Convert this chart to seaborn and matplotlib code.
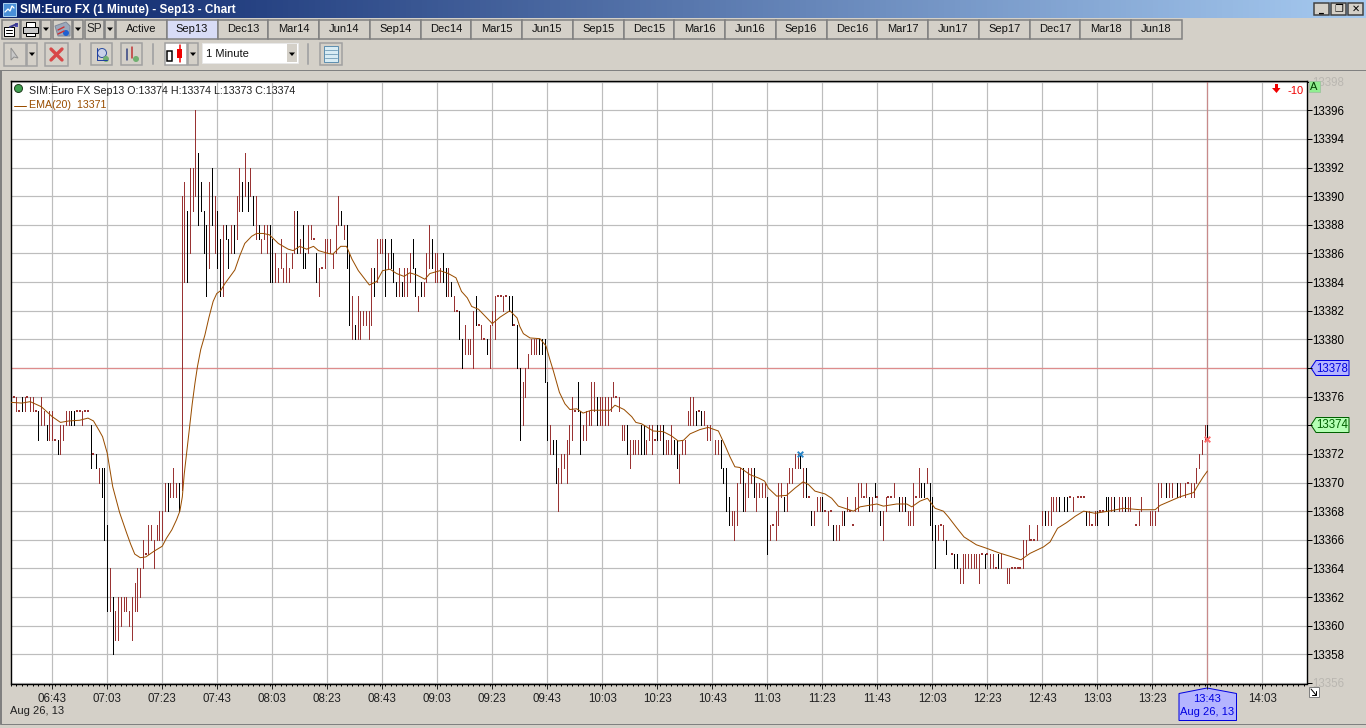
"""
Recreates the SIM:Euro FX 1 minute chart window.
Prices are read off the screenshot, times are minutes since midnight.
"""

import matplotlib
matplotlib.use('Agg')
import matplotlib.pyplot as plt
import numpy as np
import pandas as pd
import seaborn as sns
from matplotlib.colors import LinearSegmentedColormap
from matplotlib.patches import Circle, Polygon, Rectangle

# (minute, high, low)
brown_bars = [
    (390, 13376, 13375), (393, 13376, 13375), (395, 13376, 13375), (396, 13376, 13375),
    (399, 13376, 13374), (400, 13375, 13374), (402, 13375, 13373), (403, 13375, 13373),
    (406, 13374, 13372), (407, 13374, 13373), (408, 13375, 13374), (409, 13375, 13374),
    (414, 13375, 13374), (420, 13371, 13370), (424, 13364, 13361), (426, 13361, 13359),
    (427, 13362, 13359), (428, 13362, 13360), (429, 13362, 13361), (430, 13362, 13361),
    (431, 13361, 13360), (432, 13362, 13359), (433, 13363, 13361), (434, 13364, 13361),
    (435, 13364, 13362), (436, 13366, 13364), (438, 13367, 13365), (439, 13367, 13366),
    (440, 13366, 13364), (441, 13367, 13366), (442, 13368, 13366), (443, 13368, 13366),
    (444, 13370, 13368), (446, 13370, 13369), (447, 13371, 13369), (448, 13370, 13369),
    (450, 13390, 13369.5), (451, 13391, 13384), (453, 13392, 13386), (454, 13392, 13389),
    (455, 13396, 13390), (460, 13391, 13385), (462, 13390, 13386), (465, 13388, 13383),
    (468, 13388, 13386), (470, 13390, 13387), (471, 13392, 13389), (473, 13393, 13390),
    (475, 13392, 13390), (477, 13390, 13387), (479, 13387, 13386), (480, 13388, 13387),
    (481, 13388, 13386), (484, 13386, 13384), (485, 13385, 13384), (486, 13387, 13385),
    (487, 13385, 13384), (488, 13386, 13384), (489, 13385, 13384), (490, 13386, 13385),
    (491, 13389, 13386), (493, 13387, 13386), (496, 13388, 13386), (497, 13388, 13387),
    (500, 13385, 13383), (502, 13387, 13385), (503, 13387, 13386), (504, 13387, 13386),
    (505, 13386, 13385), (506, 13388, 13386), (507, 13390, 13388), (509, 13388, 13387),
    (512, 13383, 13380), (514, 13383, 13380), (515, 13382, 13380), (516, 13382, 13381),
    (517, 13382, 13381), (518, 13382, 13380), (519, 13385, 13381), (521, 13387, 13384),
    (522, 13387, 13386), (523, 13387, 13386), (525, 13386, 13385), (529, 13385, 13383),
    (531, 13385, 13383), (532, 13385, 13383), (533, 13386, 13384), (536, 13383, 13382),
    (538, 13384, 13383), (539, 13386, 13384), (540, 13388, 13385), (542, 13386, 13384),
    (543, 13386, 13384), (544, 13385, 13384), (547, 13385, 13383), (549, 13383, 13382),
    (553, 13381, 13379), (554, 13380, 13379), (555, 13380, 13379), (556, 13382, 13378),
    (559, 13381, 13380), (562, 13381, 13378), (563, 13382, 13381), (564, 13383, 13380),
    (567, 13383, 13382), (574, 13377, 13374), (575, 13378, 13376), (576, 13379, 13378),
    (577, 13380, 13379), (578, 13380, 13379), (579, 13380, 13379), (584, 13374, 13372),
    (587, 13371, 13368), (588, 13372, 13370), (589, 13372, 13371), (590, 13373, 13370),
    (591, 13374, 13372), (592, 13376, 13373), (596, 13374, 13373), (597, 13375, 13373),
    (598, 13375, 13374), (599, 13377, 13374), (600, 13377, 13375), (602, 13376, 13374),
    (603, 13376, 13374), (604, 13376, 13374), (605, 13376, 13374), (606, 13376, 13375),
    (607, 13377, 13376), (609, 13376, 13375), (610, 13374, 13373), (611, 13374, 13373),
    (613, 13373, 13371), (614, 13373, 13372), (615, 13373, 13372), (616, 13373, 13372),
    (619, 13373, 13372), (620, 13374, 13373), (621, 13374, 13372), (624, 13374, 13373),
    (626, 13373, 13372), (627, 13373, 13372), (628, 13374, 13372), (631, 13372, 13370),
    (632, 13373, 13372), (633, 13373, 13372), (634, 13375, 13374), (635, 13376, 13374),
    (636, 13376, 13374), (640, 13375, 13374), (641, 13374, 13373), (642, 13374, 13373),
    (644, 13373, 13372), (645, 13373, 13372), (650, 13368, 13367), (651, 13368, 13366),
    (652, 13370, 13367), (653, 13371, 13370), (655, 13370, 13368), (656, 13371, 13369),
    (657, 13371, 13370), (659, 13370, 13368), (660, 13370, 13369), (661, 13370, 13369),
    (662, 13370, 13369), (664, 13367, 13366), (666, 13368, 13366), (667, 13370, 13367),
    (668, 13370, 13369), (670, 13370, 13368), (671, 13371, 13370), (672, 13371, 13370),
    (673, 13372, 13371), (674, 13372, 13371), (676, 13371, 13369), (680, 13368, 13367),
    (681, 13369, 13368), (682, 13369, 13368), (685, 13368, 13367), (688, 13367, 13366),
    (689, 13367, 13366), (690, 13368, 13367), (692, 13369, 13368), (695, 13369, 13368),
    (696, 13370, 13368), (697, 13370, 13369), (699, 13370, 13369), (701, 13369, 13368),
    (705, 13368, 13366), (706, 13369, 13368), (709, 13370, 13369), (712, 13369, 13368),
    (714, 13368, 13367), (715, 13368, 13367), (716, 13370, 13367), (718, 13371, 13369),
    (721, 13371, 13370), (725, 13367, 13366), (727, 13367, 13366), (733, 13364, 13363),
    (734, 13365, 13363), (735, 13365, 13364), (736, 13365, 13364), (737, 13365, 13364),
    (738, 13365, 13364), (739, 13365, 13364), (740, 13365, 13363), (744, 13365, 13364),
    (745, 13365, 13364), (748, 13365, 13364), (750, 13364, 13363), (751, 13364, 13363),
    (756, 13366, 13364), (757, 13366, 13365), (758, 13367, 13366), (761, 13367, 13366),
    (763, 13368, 13367), (765, 13368, 13367), (766, 13369, 13367), (767, 13369, 13368),
    (768, 13369, 13368), (774, 13369, 13368), (780, 13368, 13367), (782, 13368, 13367),
    (788, 13369, 13368), (791, 13369, 13368), (792, 13369, 13368), (794, 13369, 13368),
    (795, 13369, 13368), (798, 13368, 13367), (799, 13369, 13368), (802, 13368, 13367),
    (803, 13368, 13367), (804, 13368, 13367), (805, 13370, 13368), (806, 13370, 13369),
    (809, 13370, 13369), (810, 13370, 13369), (813, 13370, 13369), (815, 13370, 13369),
    (817, 13370, 13369), (818, 13370, 13369), (819, 13371, 13370), (820, 13372, 13371),
    (821, 13373, 13372), (822, 13374, 13373),
]

black_bars = [
    (388, 13377, 13376), (392, 13376, 13375), (398, 13375, 13373), (401, 13374, 13373),
    (405, 13373, 13372), (410, 13375, 13374), (411, 13375, 13374), (417, 13374, 13371),
    (419, 13372, 13371), (421, 13371, 13369), (422, 13371, 13366), (423, 13367, 13361),
    (425, 13362, 13358), (445, 13370, 13368), (449, 13370, 13368), (452, 13389, 13384),
    (456, 13393, 13388), (457, 13391, 13389), (458, 13389, 13386), (459, 13388, 13383),
    (461, 13392, 13388), (463, 13389, 13385), (464, 13387, 13383), (466, 13388, 13387),
    (467, 13387, 13385), (469, 13388, 13386), (472, 13391, 13389), (474, 13391, 13389),
    (476, 13390, 13388), (478, 13388, 13387), (482, 13388, 13384), (483, 13387, 13384),
    (492, 13389, 13386), (494, 13388, 13385), (495, 13386, 13385), (499, 13386, 13384),
    (508, 13389, 13388), (510, 13388, 13385), (511, 13386, 13381), (513, 13381, 13380),
    (520, 13385, 13383), (524, 13387, 13383), (526, 13387, 13385), (527, 13386, 13384),
    (528, 13384, 13383), (530, 13384, 13383), (534, 13387, 13385), (535, 13385, 13383),
    (537, 13384, 13383), (541, 13387, 13385), (545, 13386, 13384), (546, 13385, 13383),
    (548, 13384, 13383), (551, 13382, 13380), (552, 13380, 13378), (557, 13383, 13381),
    (561, 13380, 13379), (569, 13383, 13382), (570, 13383, 13381), (572, 13381, 13378),
    (573, 13378, 13373), (580, 13380, 13379), (581, 13380, 13379), (582, 13380, 13377),
    (583, 13377, 13373), (585, 13373, 13372), (586, 13373, 13370), (594, 13377, 13375),
    (595, 13375, 13372), (601, 13376, 13374), (612, 13374, 13372), (617, 13374, 13372),
    (618, 13374, 13372), (623, 13374, 13373), (625, 13374, 13372), (629, 13373, 13372),
    (630, 13373, 13371), (637, 13375, 13374), (639, 13375, 13374), (646, 13373, 13371),
    (647, 13371, 13370), (648, 13371, 13368), (649, 13369, 13367), (654, 13371, 13368),
    (658, 13371, 13369), (663, 13369, 13365), (669, 13369, 13368), (675, 13372, 13371),
    (677, 13371, 13369), (679, 13368, 13367), (683, 13369, 13368), (687, 13367, 13366),
    (691, 13368, 13367), (700, 13369, 13368), (702, 13370, 13369), (704, 13368, 13367),
    (711, 13369, 13368), (713, 13369, 13368), (719, 13370, 13369), (720, 13370, 13369),
    (722, 13370, 13367), (723, 13369, 13366), (724, 13367, 13364), (728, 13366, 13365),
    (731, 13365, 13364), (732, 13365, 13364), (742, 13365, 13364), (747, 13365, 13364),
    (764, 13368, 13367), (769, 13369, 13368), (771, 13369, 13368), (772, 13369, 13368),
    (779, 13368, 13367), (783, 13368, 13367), (786, 13369, 13368), (787, 13369, 13367),
    (789, 13369, 13368), (793, 13369, 13368), (808, 13370, 13369), (812, 13370, 13369),
    (823, 13374, 13373),
]

# bars with no range, only a single pixel shows: (minute, price)
flat_bars = [
    (389, 13376), (391, 13375), (394, 13376), (397, 13375), (404, 13373), (412, 13375),
    (413, 13375), (415, 13375), (416, 13375), (418, 13372), (437, 13365), (498, 13387),
    (501, 13385), (550, 13382), (558, 13381), (560, 13380), (565, 13383), (566, 13383),
    (568, 13383), (571, 13381), (593, 13375), (608, 13376), (622, 13373), (638, 13375),
    (665, 13367), (678, 13369), (684, 13368), (686, 13368), (693, 13368), (694, 13367),
    (698, 13369), (703, 13369), (707, 13369), (708, 13369), (717, 13369), (726, 13367),
    (730, 13365), (741, 13365), (743, 13365), (746, 13364), (752, 13364), (753, 13364),
    (754, 13364), (755, 13364), (759, 13366), (760, 13366), (773, 13369), (776, 13369),
    (777, 13369), (778, 13369), (781, 13367), (784, 13368), (785, 13368), (797, 13367),
    (816, 13370),
]

ema_minute = [
    388, 392, 395, 399, 403, 406, 409, 413, 416, 418, 420, 421.3, 423, 425, 427.5, 430,
    431.5, 433, 435, 437, 440, 443, 444.5, 446.5, 448.2, 449.4, 450.3, 451, 452, 453, 453.9,
    454.9, 455.8, 457, 458.5, 460, 461.5, 462.8, 464.2, 465.8, 469.4, 471.2, 473, 475.5,
    477.3, 479.7, 482, 485.2, 488.8, 490.6, 493, 495.5, 498, 499.8, 503.4, 505, 507.9, 510,
    512, 514.3, 518.3, 521, 523.1, 525.8, 528.2, 530.9, 533, 535.5, 538.5, 540.3, 544, 547,
    549.8, 551.8, 553.9, 555.5, 558, 561, 563, 565.8, 569.4, 572, 573, 574.3, 576.7, 580.3,
    582.5, 584, 585.2, 587.4, 589.4, 591.2, 593.7, 596, 599, 605.8, 607.6, 610.9, 613.7,
    615.2, 617.3, 621.5, 625.2, 628.2, 630.6, 632.5, 634.9, 638.5, 641.5, 645.2, 647.6,
    649.4, 651.2, 653, 656.7, 660, 662, 663.4, 666.4, 670, 673, 676, 678, 680.3, 684, 686.4,
    688.8, 694.3, 696.7, 699.7, 702.8, 705.2, 710, 713.7, 715.5, 718.5, 721.2, 724, 727,
    728.8, 731.8, 734.5, 739, 742.8, 747, 751.2, 755.2, 758.5, 763.4, 765.8, 768.5, 771.8,
    775, 778, 782.2, 787, 792.5, 798.5, 804, 805.8, 809.4, 813, 818, 819.7, 821.5, 823,
]
ema_value = [
    13375.6, 13375.55, 13375.65, 13375.3, 13374.6, 13374.2, 13374.3, 13374.35, 13374.5,
    13374.3, 13373.65, 13373.2, 13372.05, 13369.7, 13367.9, 13366.5, 13365.7, 13365.0,
    13364.75, 13364.8, 13365.2, 13365.55, 13366.1, 13366.7, 13367.4, 13368.0, 13369.0,
    13370.6, 13372.3, 13374.0, 13375.5, 13376.95, 13378.1, 13379.3, 13380.3, 13381.55,
    13382.65, 13383.2, 13383.4, 13383.9, 13384.85, 13385.85, 13386.7, 13387.2, 13387.4,
    13387.4, 13387.3, 13386.7, 13386.3, 13386.2, 13386.5, 13386.3, 13386.5, 13386.2,
    13386.0, 13385.95, 13386.5, 13386.5, 13385.6, 13384.8, 13383.8, 13384.05, 13384.8,
    13384.9, 13384.6, 13384.4, 13384.65, 13384.5, 13384.2, 13384.6, 13384.8, 13384.6,
    13384.3, 13383.35, 13382.9, 13382.3, 13382.1, 13381.5, 13381.1, 13381.55, 13382.0,
    13381.5, 13380.9, 13380.4, 13380.1, 13380.05, 13379.55, 13378.55, 13377.8, 13376.3,
    13375.5, 13375.1, 13375.15, 13374.85, 13375.05, 13375.05, 13375.4, 13375.1, 13374.6,
    13374.2, 13374.1, 13373.6, 13373.55, 13373.25, 13372.9, 13372.95, 13373.4, 13373.7,
    13373.85, 13373.6, 13372.6, 13371.8, 13371.1, 13371.05, 13370.55, 13370.3, 13370.1,
    13369.6, 13369.05, 13369.1, 13369.6, 13370.05, 13369.85, 13369.4, 13369.2, 13368.9,
    13368.35, 13368.0, 13368.3, 13368.4, 13368.5, 13368.35, 13368.5, 13368.5, 13368.3,
    13368.7, 13368.9, 13368.2, 13368.0, 13367.6, 13366.85, 13366.2, 13365.65, 13365.4,
    13365.1, 13364.85, 13364.6, 13365.05, 13365.5, 13365.85, 13366.8, 13367.2, 13367.65,
    13368.0, 13367.85, 13368.0, 13368.2, 13368.1, 13368.1, 13368.4, 13368.7, 13369.0,
    13369.3, 13369.85, 13370.4, 13370.8,
]

price_ticks = list(range(13356, 13400, 2))
time_ticks = list(range(403, 844, 20))
time_labels = ['06:43', '07:03', '07:23', '07:43', '08:03', '08:23', '08:43', '09:03', '09:23',
               '09:43', '10:03', '10:23', '10:43', '11:03', '11:23', '11:43', '12:03', '12:23',
               '12:43', '13:03', '13:23', '', '14:03']
tab_labels = ['Active', 'Sep13', 'Dec13', 'Mar14', 'Jun14', 'Sep14', 'Dec14', 'Mar15', 'Jun15',
              'Sep15', 'Dec15', 'Mar16', 'Jun16', 'Sep16', 'Dec16', 'Mar17', 'Jun17', 'Sep17',
              'Dec17', 'Mar18', 'Jun18']

last_price = 13374
line_price = 13378
last_minute = 823

FACE = '#D4D0C8'
BROWN = '#993333'
EMA_COLOR = '#994D00'
PX = 0.72  # one screen pixel in points at dpi 100

sns.set_theme(style='white')
plt.rcParams['font.family'] = ['Liberation Sans', 'DejaVu Sans']
plt.rcParams['font.size'] = 8


def button(ax, x0, y0, x1, y1, face=FACE, edge='#808080'):
    ax.add_patch(Rectangle((x0, y0), x1 - x0, y1 - y0, fc=face, ec=edge, lw=PX * 1.5))


def small_arrow(ax, cx, cy):
    ax.add_patch(Polygon([(cx - 3, cy - 1.5), (cx + 3, cy - 1.5), (cx, cy + 2)], fc='black', ec='none'))


def draw_window(ax):
    """Title bar, tab strip and tool bar, in screen pixels."""
    cmap = LinearSegmentedColormap.from_list('title', ['#0A246A', '#A6CAF0'])
    ax.imshow(np.linspace(0, 1, 256).reshape(1, -1), cmap=cmap, extent=[0, 1366, 18, 0], aspect='auto')
    ax.set_xlim(0, 1366)
    ax.set_ylim(728, 0)
    ax.text(20, 9.5, 'SIM:Euro FX (1 Minute) - Sep13 - Chart', color='white', fontweight='bold',
            fontsize=8.5, va='center')
    ax.add_patch(Rectangle((3, 3), 13, 13, fc='#4A90D8', ec='#A8D0F0', lw=PX))
    ax.plot([5, 8, 10, 12, 14], [12, 9, 11, 6, 8], color='white', lw=PX * 1.3)

    # window buttons
    for x0, glyph in zip([1314, 1331, 1348], ['_', '❐', '✕']):
        button(ax, x0, 3, x0 + 15, 15, edge='#404040')
        ax.text(x0 + 7.5, 9, glyph, ha='center', va='center', fontsize=7, fontweight='bold',
                family=['DejaVu Sans'], color='black')

    # tab strip
    for i, label in enumerate(tab_labels):
        left = 116 + i * 50.75
        face = '#D8DCF6' if label == 'Sep13' else FACE
        button(ax, left, 20, left + 50.75, 38.5, face=face)
        ax.text(left + 25.4, 29.5, label, ha='center', va='center', color='#111111')

    # left tool buttons of the first row
    for x0, x1 in [(2, 20), (21, 40), (41, 51), (53, 72), (73, 83), (85, 104), (105, 115)]:
        button(ax, x0, 20, x1, 38.5)
    for cx in [46, 78, 110]:
        small_arrow(ax, cx, 29)
    ax.text(94.5, 29.5, 'SP', ha='center', va='center', fontsize=8.5)
    # page with a flag
    ax.add_patch(Rectangle((4, 27), 10, 9, fc='white', ec='black', lw=PX))
    ax.plot([6, 12], [30, 30], color='black', lw=PX)
    ax.plot([6, 12], [33, 33], color='black', lw=PX)
    ax.plot([10, 17], [27, 24], color='#3A3A90', lw=PX * 2)
    ax.add_patch(Rectangle((15, 23), 3, 4, fc='#5050B0', ec='none'))
    # printer
    ax.add_patch(Rectangle((23, 27), 15, 6, fc='#C8C8C8', ec='black', lw=PX))
    ax.add_patch(Rectangle((26, 22), 9, 5, fc='white', ec='black', lw=PX))
    ax.add_patch(Rectangle((26, 33), 9, 3, fc='white', ec='black', lw=PX))
    # stacked sheets
    ax.add_patch(Polygon([(55, 26), (66, 22), (70, 26), (70, 36), (58, 36)], fc='#9AA8BC', ec='#808898', lw=PX))
    ax.plot([58, 64], [30, 27], color='#D03030', lw=PX * 1.4)
    ax.plot([58, 64], [34, 31], color='#D03030', lw=PX * 1.4)
    ax.add_patch(Circle((66, 33), 3, fc='#2060D0', ec='none'))

    # second row
    button(ax, 4, 43, 26, 66, edge='#A0A0A0')
    button(ax, 27, 43, 37, 66, edge='#A0A0A0')
    small_arrow(ax, 32, 54)
    ax.add_patch(Polygon([(11, 48), (11, 60), (14, 57), (18, 58)], fc='#C8C8C8', ec='#909090', lw=PX))
    button(ax, 45, 43, 68, 66, edge='#A0A0A0')
    ax.plot([51, 62], [49, 60], color='#D84848', lw=2.4)
    ax.plot([51, 62], [60, 49], color='#D84848', lw=2.4)
    for x in [80, 153, 308]:
        ax.plot([x, x], [44, 64], color='#A8A8A8', lw=PX * 2)
    for x0 in [91, 121]:
        button(ax, x0, 43, x0 + 21, 65, edge='#A0A0A0')
    ax.add_patch(Circle((102, 53), 4.5, fc='#C8D0E8', ec='#3050A0', lw=PX))
    ax.plot([97, 97, 107], [48, 60, 60], color='#2040A0', lw=PX)
    ax.add_patch(Circle((106, 59), 3, fc='#70B070', ec='none'))
    ax.plot([127, 127], [49, 60], color='#304080', lw=PX * 1.5)
    ax.plot([132, 132], [47, 58], color='#C03030', lw=PX * 1.5)
    ax.add_patch(Circle((136, 59), 3, fc='#70B070', ec='none'))

    button(ax, 165, 43, 187, 65, face='white', edge='#A0A0A0')
    ax.add_patch(Rectangle((167, 51), 5, 10, fc='white', ec='black', lw=PX * 1.5))
    ax.add_patch(Rectangle((177, 49), 5, 9, fc='#F00000', ec='none'))
    ax.plot([179.5, 179.5], [45, 62], color='#F00000', lw=PX * 1.5)
    button(ax, 188, 43, 198, 65, edge='#A0A0A0')
    small_arrow(ax, 193, 54)
    ax.add_patch(Rectangle((202, 43), 96, 20, fc='white', ec='#E8E8E8', lw=PX))
    ax.add_patch(Rectangle((287, 44), 10, 18, fc=FACE, ec='none'))
    small_arrow(ax, 292, 54)
    ax.text(206, 54, '1 Minute', va='center', color='#111111')
    button(ax, 320, 43, 342, 65, edge='#A0A0A0')
    ax.add_patch(Rectangle((324, 46), 14, 16, fc='#D8ECF4', ec='#6090B0', lw=PX))
    for y in [50, 54, 58]:
        ax.plot([325, 337], [y, y], color='#80A8C0', lw=PX)

    # panel outline
    ax.plot([0, 1366], [70, 70], color='#808080', lw=PX)
    ax.plot([0, 1366], [724, 724], color='#808080', lw=PX)
    ax.add_patch(Rectangle((0, 70), 2, 654, fc='#808080', ec='none'))


def draw_tags(ax):
    """Price tags, time tag and the small corner items around the plot."""
    tags = [(line_price, 368, '#B4B4FF', '#0000E0'),
            (last_price, 425, '#B4FFB4', '#006000')]
    for price, y, face, edge in tags:
        ax.add_patch(Polygon([(1311, y), (1316, y - 7.5), (1349, y - 7.5), (1349, y + 7.5), (1316, y + 7.5)],
                             fc=face, ec=edge, lw=PX))
        ax.plot([1306, 1311], [y, y], color=edge, lw=PX)
        ax.text(1332, y + 0.5, str(price), ha='center', va='center', color=edge, fontsize=8.3)

    ax.plot([1207, 1207], [684, 688], color='#0000E0', lw=PX)
    ax.add_patch(Polygon([(1179, 693.5), (1207, 688), (1236.5, 693.5), (1236.5, 720.5), (1179, 720.5)],
                         fc='#B4B4FF', ec='#0000E0', lw=PX))
    ax.text(1207.5, 699, '13:43', ha='center', va='center', color='#0000E0')
    ax.text(1207.5, 712, 'Aug 26, 13', ha='center', va='center', color='#0000E0')
    ax.text(10, 711, 'Aug 26, 13', va='center', color='#202020')

    ax.add_patch(Rectangle((1308.5, 687), 10.5, 10, fc='white', ec='#808080', lw=PX))
    ax.plot([1311, 1316], [689, 695], color='black', lw=PX)
    ax.plot([1312, 1316, 1316], [695, 695, 691], color='black', lw=PX)


fig = plt.figure(figsize=(13.66, 7.28), dpi=100, facecolor=FACE)

# full figure axes in screen pixels for everything that is not the plot
chrome = fig.add_axes([0, 0, 1, 1], zorder=1)
chrome.set_axis_off()
draw_window(chrome)
draw_tags(chrome)

# plot area: left 10.7, right 1306.7, top 80.7, bottom 683.5 in screen pixels
ax = fig.add_axes([10.7 / 1366, 1 - 683.5 / 728, 1296 / 1366, 602.8 / 728], zorder=2, facecolor='white')
ax.set_xlim(387.9, 859.1)
ax.set_ylim(13355.96, 13398.07)

ax.set_axisbelow(True)
ax.grid(True, color='#BDBDBD', lw=PX * 1.2)
ax.yaxis.tick_right()
ax.set_yticks(price_ticks)
ax.set_yticklabels(['' if p in (line_price, last_price) else str(p) for p in price_ticks])
ax.set_xticks(time_ticks)
ax.set_xticklabels(time_labels)
ax.set_xticks(range(388, 860, 2), minor=True)
ax.tick_params(axis='y', which='major', right=True, length=3.6, width=PX, pad=0.5, labelsize=8.3, colors='black')
ax.tick_params(axis='x', which='major', bottom=True, length=3.6, width=PX, pad=3, labelsize=8.3, colors='#202020')
ax.tick_params(axis='x', which='minor', bottom=True, length=1.5, width=PX, color='black')
ax.grid(False, which='minor')
for label, price in zip(ax.get_yticklabels(), price_ticks):
    if price in (13356, 13398):
        label.set_color('#BAB7B1')
for side in ax.spines.values():
    side.set_color('black')
    side.set_linewidth(PX * 1.4)

ax.axhline(line_price, color='#DE8C8C', lw=PX * 1.2, zorder=1.5)
ax.axvline(last_minute, color='#C88A8A', lw=PX * 1.2, zorder=1.5)

brown = pd.DataFrame(brown_bars, columns=['minute', 'high', 'low'])
black = pd.DataFrame(black_bars, columns=['minute', 'high', 'low'])
flat = pd.DataFrame(flat_bars, columns=['minute', 'price'])
ema = pd.DataFrame({'minute': ema_minute, 'value': ema_value})

ax.vlines(brown['minute'], brown['low'], brown['high'], color=BROWN, lw=PX, antialiased=False, zorder=3)
ax.vlines(black['minute'], black['low'], black['high'], color='black', lw=PX, antialiased=False, zorder=3)
sns.scatterplot(data=flat, x='minute', y='price', marker='s', s=1, color=BROWN, linewidth=0, ax=ax, zorder=3)
sns.lineplot(data=ema, x='minute', y='value', color=EMA_COLOR, lw=PX, estimator=None, sort=False, ax=ax, zorder=4)
ax.set_xlabel('')
ax.set_ylabel('')

# trade marks on the bars
ax.scatter([675], [13372], marker='x', s=16, color='#2A86C8', linewidths=1.4, zorder=5)
ax.scatter([last_minute], [13373.05], marker='x', s=16, color='#FF6A6A', linewidths=1.4, zorder=5)

# header texts inside the plot, in screen pixels
header = fig.add_axes([0, 0, 1, 1], zorder=3)
header.set_axis_off()
header.patch.set_alpha(0)
header.set_xlim(0, 1366)
header.set_ylim(728, 0)
header.add_patch(Circle((18.5, 88.5), 4, fc='#3E9E4E', ec='#204020', lw=PX))
header.text(29, 90.5, 'SIM:Euro FX Sep13 O:13374 H:13374 L:13373 C:13374', va='center', color='#202020',
            fontsize=7.7)
header.plot([14, 26], [105.5, 105.5], color=EMA_COLOR, lw=PX)
header.text(29, 105.5, 'EMA(20)  13371', va='center', color=EMA_COLOR, fontsize=7.7)
header.add_patch(Polygon([(1275, 84), (1278, 84), (1278, 88), (1280.5, 88), (1276.5, 93), (1272, 88), (1275, 88)],
                         fc='#F00000', ec='none'))
header.text(1288, 90.5, '-10', va='center', color='#F00000')
header.add_patch(Rectangle((1308.5, 81), 11, 10.5, fc='#90EE90', ec='#A0C8A0', lw=PX))
header.text(1314, 86.5, 'A', ha='center', va='center', color='#004000')

fig.savefig('out.png', dpi=100, facecolor=FACE)
